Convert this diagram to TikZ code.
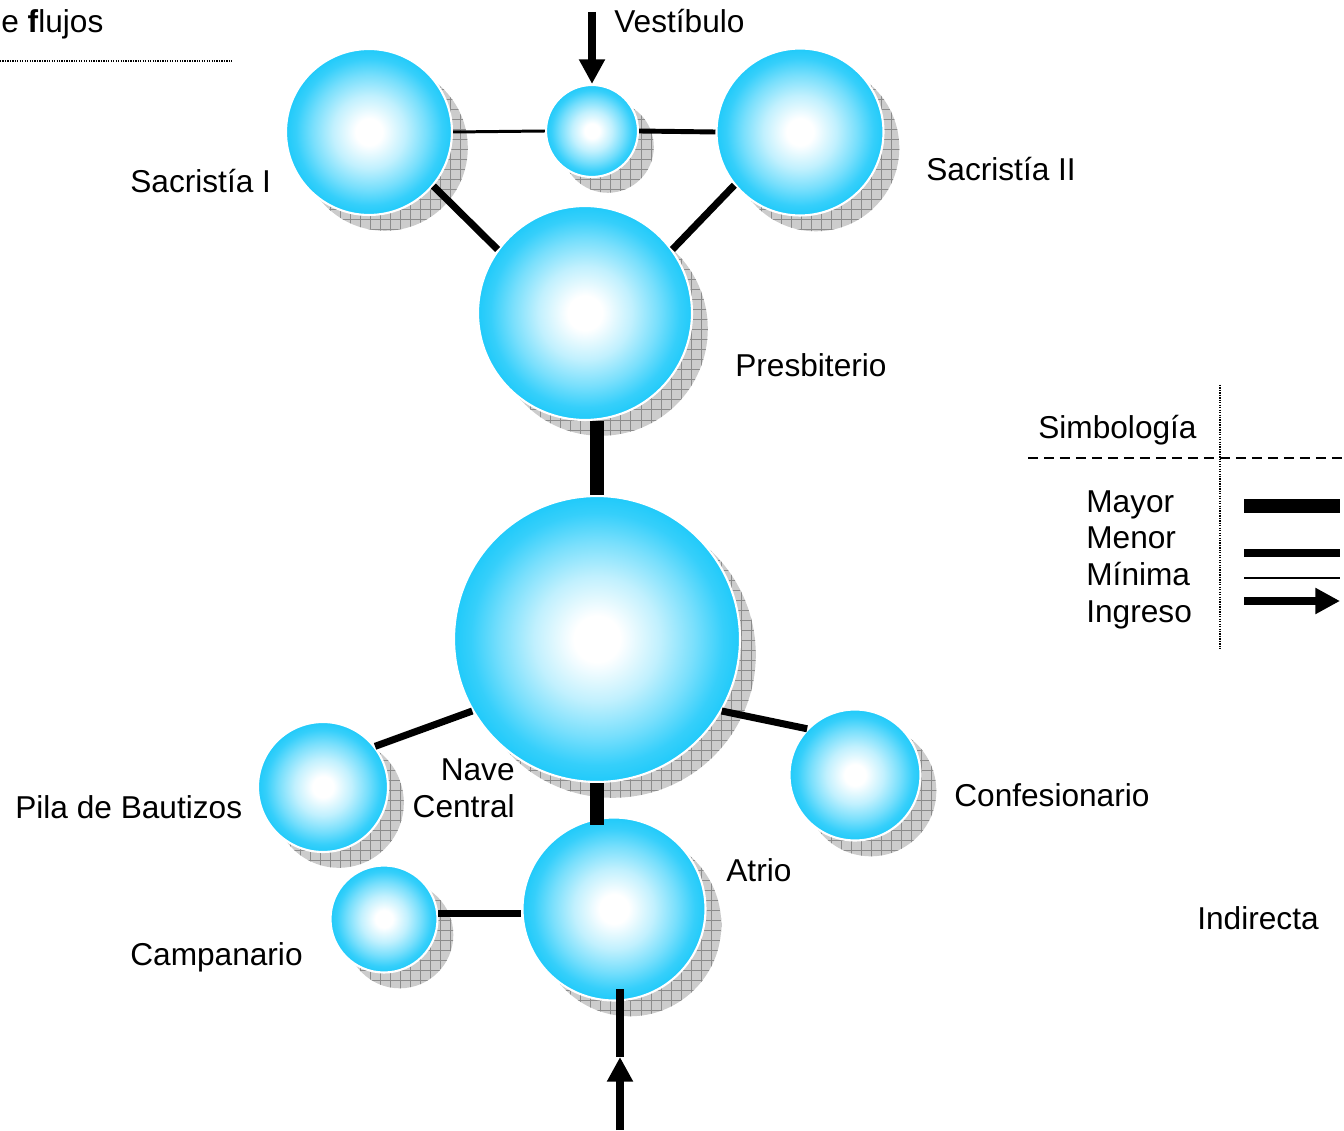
\documentclass[tikz,border=0pt]{standalone}
\usepackage{fontspec}
\setmainfont{Liberation Sans}
\usetikzlibrary{arrows.meta,shadows,patterns}
\definecolor{celeste}{RGB}{32,202,250}
\definecolor{gris}{RGB}{204,204,204}
\definecolor{rejgris}{RGB}{140,140,140}
\pgfdeclareradialshading{brillo}{\pgfpoint{0bp}{0bp}}{color(0bp)=(white); color(4bp)=(white); color(11bp)=(celeste!28!white); color(17bp)=(celeste!60!white); color(22bp)=(celeste!90!white); color(25bp)=(celeste); color(50bp)=(celeste)}
\pgfdeclarepatternformonly{rejilla}{\pgfqpoint{-0.5pt}{-0.5pt}}{\pgfqpoint{6pt}{6pt}}{\pgfqpoint{5.7pt}{5.7pt}}{%
  \pgfsetlinewidth{0.5pt}
  \pgfpathmoveto{\pgfqpoint{0pt}{0pt}}\pgfpathlineto{\pgfqpoint{5.7pt}{0pt}}
  \pgfpathmoveto{\pgfqpoint{0pt}{0pt}}\pgfpathlineto{\pgfqpoint{0pt}{5.7pt}}
  \pgfusepath{stroke}}
\tikzstyle{esfera} = [circle, inner sep=0pt, draw=white, line width=1.2pt, shade, shading=brillo,
  general shadow={shadow xshift=9pt, shadow yshift=-9pt, fill=gris, draw=none},
  general shadow={shadow xshift=9pt, shadow yshift=-9pt, pattern=rejilla, pattern color=rejgris, draw=none}]
\tikzstyle{mayor} = [line width=8pt]
\tikzstyle{menor} = [line width=4pt]
\tikzstyle{minima} = [line width=1.7pt]
\tikzstyle{ingreso} = [line width=4.5pt, -{Triangle[length=14pt,width=14pt]}]
\tikzstyle{rotulo} = [font=\fontsize{18}{21}\selectfont, inner sep=0pt]

\begin{document}
\begin{tikzpicture}[x=0.02cm, y=-0.02cm]
\useasboundingbox (0,0) rectangle (1344,1131);

% espacios
\node[esfera, minimum size=3.32cm] (sac1) at (369,132) {};
\node[esfera, minimum size=1.84cm] (vest) at (592,131) {};
\node[esfera, minimum size=3.34cm] (sac2) at (800,132) {};
\node[esfera, minimum size=4.28cm] (pres) at (585,313) {};
\node[esfera, minimum size=5.72cm] (nave) at (597,639) {};
\node[esfera, minimum size=2.6cm] (pila) at (323,787) {};
\node[esfera, minimum size=2.62cm] (conf) at (855,775) {};
\node[esfera, minimum size=3.66cm] (atrio) at (614,909) {};
\node[esfera, minimum size=2.14cm] (camp) at (384,919) {};

% relaciones
\draw[minima] (sac1.east) -- (vest.west);
\draw[minima, line width=2.8pt] (vest.east) -- (sac2.west);
\draw[menor] (sac1.-40) -- (pres.144);
\draw[menor] (sac2.-141) -- (pres.36);
\draw[mayor] (nave.north) -- (nave.north |- pres.south);
\draw[mayor, shorten >=-5pt] (nave.south) -- (atrio.north -| nave.south);
\draw[menor] (nave.210) -- (pila.38);
\draw[menor] (nave.-30) -- (conf.136);
\draw[menor] (camp.6) -- (camp.6 -| atrio.west);

% ingresos
\coordinate (vin) at (592,12);
\draw[ingreso] (vin) -- (vest.north);
\coordinate (ain) at (620,1057);
\coordinate (aout) at (620,1130);
\draw[menor, line width=4.5pt, shorten <=-7pt] (atrio.south -| ain) -- (ain);
\draw[ingreso] (aout) -- (ain);

% rotulos
\node[rotulo, anchor=base west] (titulo) at (1,33) {e \textbf{f}lujos};
\draw[line width=0.6pt, dash pattern=on 0.7pt off 0.7pt] (0,61) -- (232,61);
\node[rotulo, anchor=base west] (tvest) at (614,33) {Vestíbulo};
\node[rotulo, anchor=base west] (tsac1) at (130,193) {Sacristía I};
\node[rotulo, anchor=base west] (tsac2) at (926,181) {Sacristía II};
\node[rotulo, anchor=base west] (tpres) at (735,377) {Presbiterio};
\node[rotulo, anchor=east, align=right] (tnave) at (515,788) {Nave\\Central};
\node[rotulo, anchor=base west] (tpila) at (15,818) {Pila de Bautizos};
\node[rotulo, anchor=base west] (tconf) at (954,806) {Confesionario};
\node[rotulo, anchor=base west] (tatrio) at (726,881) {Atrio};
\node[rotulo, anchor=base west] (tcamp) at (130,965) {Campanario};
\node[rotulo, anchor=base west] (tind) at (1197,929) {Indirecta};

% simbologia
\node[rotulo, anchor=base west] (tsimb) at (1038,438) {Simbología};
\draw[line width=1pt, dash pattern=on 5.7pt off 3.4pt] (1028,458) -- (1344,458);
\draw[line width=0.6pt, dash pattern=on 0.7pt off 0.7pt] (1220,385) -- (1220,650);
\node[rotulo, anchor=base west] (lmayor) at (1086,512) {Mayor};
\node[rotulo, anchor=base west] (lmenor) at (1086,548) {Menor};
\node[rotulo, anchor=base west] (lminima) at (1086,585) {Mínima};
\node[rotulo, anchor=base west] (lingreso) at (1086,622) {Ingreso};
\draw[mayor, line width=8.5pt] (1244,506) -- (1340,506);
\draw[menor, line width=4.5pt] (1244,553) -- (1340,553);
\draw[minima, line width=1pt] (1244,578) -- (1340,578);
\draw[ingreso] (1244,601) -- (1340,601);
\end{tikzpicture}
\end{document}
